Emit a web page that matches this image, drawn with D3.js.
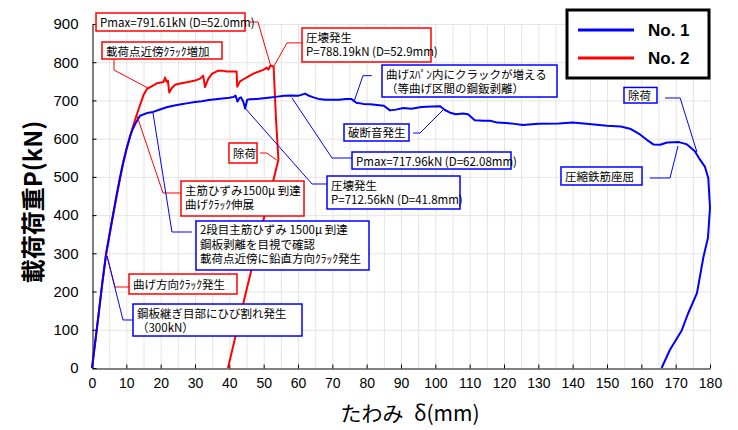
<!DOCTYPE html>
<html>
<head>
<meta charset="utf-8">
<script src="https://cdn.jsdelivr.net/npm/d3@7"></script>
<style>
  body { margin: 0; background: #fff; }
  svg { display: block; }
</style>
</head>
<body>
<svg id="chart" width="738" height="430"></svg>
<script>
// Load–deflection curves of the two specimens (deflection in mm, load in kN)
const no1Deflection = [0, 1, 2, 3, 4.1, 5, 6, 7, 8, 9, 10, 11, 11.8, 12.8, 14, 16, 17.8, 20, 22, 24, 26, 28, 30, 32, 34, 36, 38, 40, 41.2, 41.8, 42.4, 42.9, 43.4, 43.9, 44.3, 44.6, 45.2, 46, 48, 50, 52, 54, 56, 58, 60, 62.08, 63, 64.5, 66, 68, 70, 72, 74, 75.5, 77, 79, 81, 83, 85, 86.8, 88.5, 90.7, 93, 96, 99, 101.4, 102.8, 104.3, 106, 108, 109.5, 111.5, 114, 116, 118, 122, 125.5, 130, 136, 140, 144, 150, 154, 156.7, 159.6, 161.6, 163.5, 165.5, 167.5, 171, 173.3, 175.6, 177.1, 178.5, 179.5, 180, 179.4, 178.1, 176.2, 173.5, 171.8, 168.3, 165.9];
const no1Load = [0, 72, 146, 222, 298, 345, 395, 445, 492, 535, 572, 603, 624, 642, 660, 667, 670, 677, 683, 687, 690, 693, 696, 698, 701, 703, 705, 707, 709, 712.56, 697, 706, 708, 700, 690, 679, 702, 703, 704, 706, 708, 710, 712, 713, 712, 717.96, 713, 708, 704, 702, 702, 702, 704, 704, 694, 691, 690, 688, 686, 674, 676, 680, 678, 683, 684, 685, 675, 668, 664, 666, 664, 648, 647, 647, 642, 640, 636, 639, 640, 642, 639, 634, 632, 626, 611, 597, 585, 584, 590, 591, 585, 567, 545, 527, 497, 420, 340, 291, 196, 140, 99, 47, 0];

const no2Deflection = [0, 1, 2, 3, 4.1, 5, 6, 7, 8, 9, 10, 11, 12, 13, 14, 15, 16, 17, 18, 19, 20.8, 21.3, 21.7, 22.1, 22.5, 23.2, 24.2, 26, 28, 30, 31.5, 32.4, 32.9, 33.9, 35, 36.8, 38, 39.2, 42.1, 42.3, 43.1, 45, 47, 49.9, 50.9, 51.4, 52.0, 52.9, 53.6, 54.3, 50, 45, 39.6];
const no2Load = [0, 72, 146, 222, 298, 342, 392, 440, 488, 532, 570, 604, 634, 662, 688, 714, 730, 735, 740, 745, 748, 760, 749, 752, 721, 732, 741, 745, 748, 752, 757, 765, 735, 757, 770, 778, 778, 776, 776, 736, 750, 760, 770, 780, 786, 781, 791.61, 788.19, 650, 545, 389, 204, 0];

// Axis ticks
const xTicks = d3.range(0, 181, 10);
const yTicks = d3.range(0, 901, 100);
const xGrid = d3.range(5, 181, 5);
const yGrid = d3.range(100, 901, 100);

const seriesNames = ["No. 1", "No. 2"];
const seriesColors = ["#0000ff", "#ff0000"];

// Callout boxes: corners and leader polylines in data units
const notes = [
  { c: 1, lines: ["Pmax=791.61kN (D=52.0mm)"], box: [[1.17, 928.8], [44.57, 881.7]],
    leader: [[46.0, 905.2], [48.35, 905.2], [52.0, 791.61]] },
  { c: 1, lines: ["載荷点近傍ｸﾗｯｸ増加"], box: [[2.91, 852.9], [37.86, 808.4]],
    leader: [[6.41, 808.4], [6.41, 779.6], [16.3, 732.5]] },
  { c: 1, lines: ["圧壊発生", "P=788.19kN (D=52.9mm)"], box: [[61.17, 889.5], [98.74, 800.6]],
    leader: [[61.17, 850.6], [56.8, 850.6], [52.9, 788.19]] },
  { c: 1, lines: ["除荷"], box: [[39.9, 588.7], [48.06, 536.4]],
    leader: [[48.93, 562.5], [50.9, 562.5], [53.8, 544.2]] },
  { c: 1, lines: ["主筋ひずみ1500μ 到達", "曲げｸﾗｯｸ伸展"], box: [[25.92, 489.2], [61.75, 397.7]],
    leader: [[25.92, 457.9], [20.68, 457.9], [13.11, 659.3]] },
  { c: 1, lines: ["曲げ方向ｸﾗｯｸ発生"], box: [[10.78, 245.9], [42.23, 193.6]],
    leader: [[10.78, 211.9], [6.7, 211.9], [4.22, 298.3]] },
  { c: 0, lines: ["曲げｽﾊﾟﾝ内にクラックが増える", "（等曲げ区間の鋼鈑剥離）"], box: [[84.47, 792.7], [135.44, 709.0]],
    leader: [[81.5, 764.8], [78.93, 764.8], [76.31, 696.7]] },
  { c: 0, lines: ["破断音発生"], box: [[73.4, 638.4], [92.33, 593.9]],
    leader: [[93.5, 614.8], [95.53, 614.8], [102.23, 675.0]] },
  { c: 0, lines: ["Pmax=717.96kN (D=62.08mm)"], box: [[75.73, 565.1], [122.04, 520.6]],
    leader: [[75.73, 549.4], [69.9, 549.4], [58.25, 706.4]] },
  { c: 0, lines: ["圧壊発生", "P=712.56kN (D=41.8mm)"], box: [[68.45, 502.3], [107.19, 416.0]],
    leader: [[68.45, 481.4], [64.08, 481.4], [44.56, 680.2]] },
  { c: 0, lines: ["2段目主筋ひずみ 1500μ 到達", "鋼板剥離を目視で確認", "載荷点近傍に鉛直方向ｸﾗｯｸ発生"], box: [[30.29, 384.6], [80.68, 256.4]],
    leader: [[29.1, 355.8], [23.3, 355.8], [17.77, 667.2]] },
  { c: 0, lines: ["鋼板継ぎ目部にひび割れ発生", "（300kN）"], box: [[11.94, 167.4], [61.17, 83.7]],
    leader: [[11.94, 125.6], [9.03, 125.6], [4.37, 293.0]] },
  { c: 0, lines: ["除荷"], box: [[154.95, 734.0], [164.56, 693.3]],
    leader: [[166.9, 706.4], [171.3, 706.4], [176.2, 565.1]] },
  { c: 0, lines: ["圧縮鉄筋座屈"], box: [[136.6, 525.9], [160.2, 478.8]],
    leader: [[162.5, 497.1], [168.35, 497.1], [170.68, 580.8]] }
];

const svg = d3.select("#chart");
const margin = { left: 92, right: 28, top: 24, bottom: 62 };
const W = 738, H = 430;

const x = d3.scaleLinear().domain([0, 180]).range([margin.left, W - margin.right]);
const y = d3.scaleLinear().domain([0, 900]).range([H - margin.bottom, margin.top]);

const latin = "'Liberation Sans', Arial, sans-serif";
const jp = "'Noto Sans CJK JP', sans-serif";

// grid
const grid = svg.append("g").attr("stroke", "#e4e4e4").attr("stroke-width", 1);
grid.selectAll("line.v").data(xGrid).join("line").attr("class", "v")
  .attr("x1", d => x(d) + 0.5).attr("x2", d => x(d) + 0.5)
  .attr("y1", y(900)).attr("y2", y(0));
grid.selectAll("line.h").data(yGrid).join("line").attr("class", "h")
  .attr("x1", x(0)).attr("x2", x(180))
  .attr("y1", d => y(d) + 0.5).attr("y2", d => y(d) + 0.5);

// axes with inward ticks
const xAxis = d3.axisBottom(x).tickValues(xTicks).tickSize(-4).tickPadding(10).tickSizeOuter(0);
const yAxis = d3.axisLeft(y).tickValues(yTicks).tickSize(-4).tickPadding(14).tickSizeOuter(0);

const gx = svg.append("g").attr("transform", `translate(0,${y(0) + 0.5})`).call(xAxis);
gx.selectAll("text").attr("font-family", latin).attr("font-size", 14).attr("fill", "#000");
gx.selectAll("line, path").attr("stroke", "#000");

const gy = svg.append("g").attr("transform", `translate(${x(0) + 0.5},0)`).call(yAxis);
gy.selectAll("text").attr("font-family", latin).attr("font-size", 15).attr("fill", "#000");
gy.selectAll("line, path").attr("stroke", "#000");

// curves
svg.append("defs").append("clipPath").attr("id", "plot-clip")
  .append("rect").attr("x", x(0) - 1).attr("y", y(900)).attr("width", x(180) - x(0) + 2).attr("height", y(0) - y(900) + 1);

const line = d3.line().x(d => x(d[0])).y(d => y(d[1]));
const series = [
  d3.zip(no1Deflection, no1Load),
  d3.zip(no2Deflection, no2Load)
];
svg.append("g").attr("clip-path", "url(#plot-clip)")
  .selectAll("path").data([series[1], series[0]]).join("path")
  .attr("d", line).attr("fill", "none")
  .attr("stroke", (d, i) => i === 0 ? seriesColors[1] : seriesColors[0])
  .attr("stroke-width", 2).attr("stroke-linejoin", "round");

// callouts
const ng = svg.append("g");
notes.forEach(n => {
  const col = seriesColors[n.c];
  ng.append("path")
    .attr("d", d3.line().x(d => x(d[0])).y(d => y(d[1]))(n.leader))
    .attr("fill", "none").attr("stroke", col).attr("stroke-width", 1);
  const x0 = x(n.box[0][0]), y0 = y(n.box[0][1]);
  const x1 = x(n.box[1][0]), y1 = y(n.box[1][1]);
  ng.append("rect").attr("x", x0).attr("y", y0).attr("width", x1 - x0).attr("height", y1 - y0)
    .attr("fill", "#fff").attr("stroke", col).attr("stroke-width", 1.5);
  const lh = 14.5;
  const top = n.lines.length === 1 ? (y0 + y1) / 2 : y0 + 8.5;
  n.lines.forEach((t, i) => {
    ng.append("text").attr("x", x0 + 4).attr("y", top + i * lh)
      .attr("dominant-baseline", "central")
      .attr("font-family", jp).attr("font-size", 11.5).attr("fill", "#000")
      .text(t);
  });
});

// legend
const lg = svg.append("g");
lg.append("rect").attr("x", 567).attr("y", 10).attr("width", 142).attr("height", 68)
  .attr("fill", "#fff").attr("stroke", "#000").attr("stroke-width", 3);
seriesNames.forEach((name, i) => {
  const yy = 30 + i * 28;
  lg.append("line").attr("x1", 578).attr("x2", 634).attr("y1", yy).attr("y2", yy)
    .attr("stroke", seriesColors[i]).attr("stroke-width", 3);
  lg.append("text").attr("x", 648).attr("y", yy).attr("dominant-baseline", "central")
    .attr("font-family", latin).attr("font-weight", "bold").attr("font-size", 17)
    .text(name);
});

// axis titles
svg.append("text").attr("transform", `translate(31,${(y(0) + y(900)) / 2 + 6}) rotate(-90)`)
  .attr("text-anchor", "middle").attr("dominant-baseline", "central")
  .attr("font-family", jp).attr("font-weight", "bold").attr("font-size", 24)
  .text("載荷荷重P(kN)");
svg.append("text").attr("x", 410).attr("y", 412)
  .attr("text-anchor", "middle").attr("dominant-baseline", "central")
  .attr("font-family", jp).attr("font-size", 21)
  .text("たわみ\u2002δ(mm)");
</script>
</body>
</html>
